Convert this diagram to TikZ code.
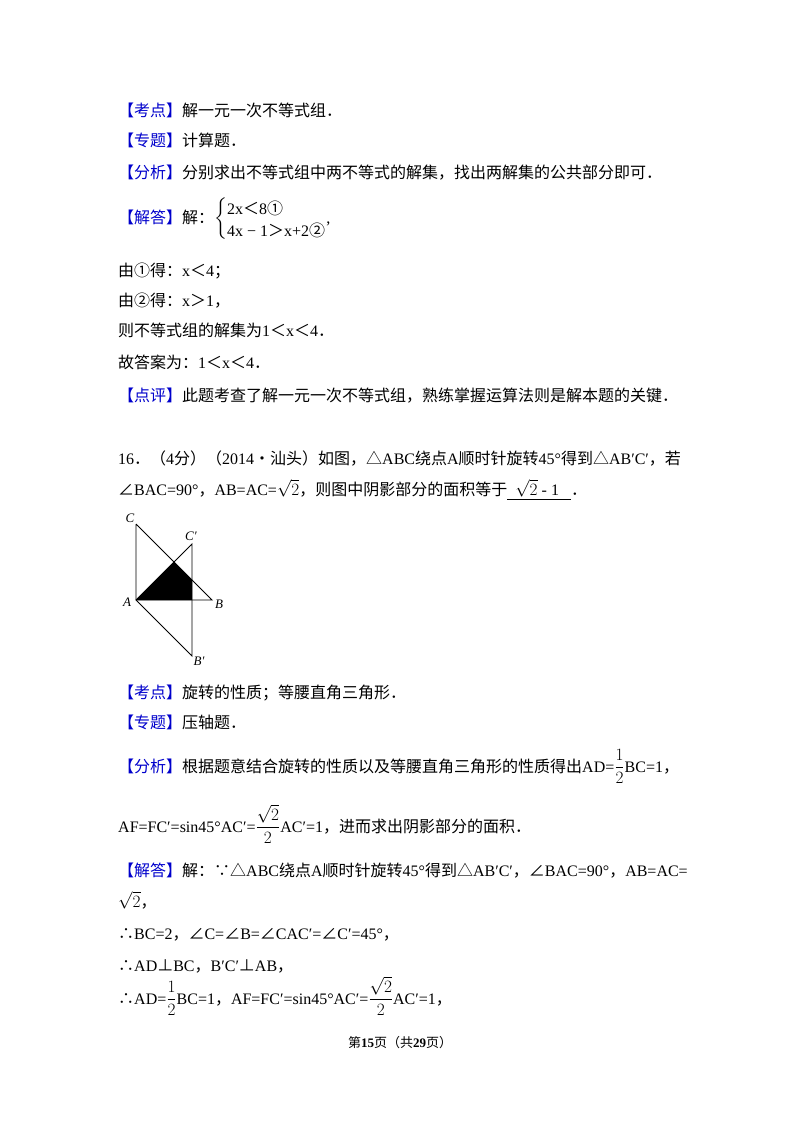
\documentclass[tikz,border=0pt]{standalone}
\usepackage{amsmath}
\usepackage{fontspec}
\setmainfont{Liberation Serif}
\newfontfamily\zh{Noto Sans CJK SC}
\newcommand{\bl}[1]{{\color{blue!80!black}\zh #1}}
\begin{document}
\begin{tikzpicture}[x=1pt,y=1pt,tx/.style={anchor=base west,inner sep=0pt,font=\fontsize{16}{18}\selectfont}]
\useasboundingbox (0,0) rectangle (800,-1132);
\fill[white] (0,0) rectangle (800,-1132);
\node[tx] (l1) at (118,-116) {\bl{【考点】}{\zh 解一元一次不等式组．}};
\node[tx] (l2) at (118,-146) {\bl{【专题】}{\zh 计算题．}};
\node[tx] (l3) at (118,-178) {\bl{【分析】}{\zh 分别求出不等式组中两不等式的解集，找出两解集的公共部分即可．}};
\node[tx,anchor=west] (l4) at (118,-219) {\bl{【解答】}{\zh 解：}$\left\{\begin{tabular}{@{}l@{}}\rule{0pt}{18pt}2x{\zh ＜}8{\zh ①}\\[3pt]4x − 1{\zh ＞}x+2{\zh ②}\end{tabular}\right.$,};
\node[tx] (l5) at (118,-276) {{\zh 由①得：}x{\zh ＜}4{\zh ；}};
\node[tx] (l6) at (118,-306) {{\zh 由②得：}x{\zh ＞}1{\zh ，}};
\node[tx] (l7) at (118,-336) {{\zh 则不等式组的解集为}1{\zh ＜}x{\zh ＜}4{\zh ．}};
\node[tx] (l8) at (118,-368) {{\zh 故答案为：}1{\zh ＜}x{\zh ＜}4{\zh ．}};
\node[tx] (l9) at (118,-401) {\bl{【点评】}{\zh 此题考查了解一元一次不等式组，熟练掌握运算法则是解本题的关键．}};
\node[tx] (q1) at (118,-464) {16{\zh ．（}4{\zh 分）（}2014{\zh •汕头）如图，△}ABC{\zh 绕点}A{\zh 顺时针旋转}45°{\zh 得到△}AB′C′{\zh ，若}};
\node[tx] (q2) at (118,-495) {{\zh ∠}BAC=90°{\zh ，}AB=AC=$\sqrt{2}${\zh ，则图中阴影部分的面积等于}\underline{\ \ $\sqrt{2}$ - 1\ \ \ }{\zh ．}};
% figure
\coordinate (A) at (136,-600);
\coordinate (B) at (212,-600);
\coordinate (C) at (136,-524);
\coordinate (Cp) at (192,-544);
\coordinate (Bp) at (192,-656);
\coordinate (P) at (174,-562);
\coordinate (Q) at (192,-580);
\coordinate (R) at (192,-600);
\fill[black] (A) -- (P) -- (Q) -- (R) -- cycle;
\draw[line width=0.9pt] (C) -- (A) -- (B) -- (C);
\draw[line width=0.9pt] (A) -- (Cp) -- (Bp) -- (A);
\node[font=\itshape\fontsize{13}{14}\selectfont] (nC) at (130,-518) {C};
\node[font=\itshape\fontsize{13}{14}\selectfont] (nCp) at (191,-536) {C′};
\node[font=\itshape\fontsize{13}{14}\selectfont] (nA) at (127,-602) {A};
\node[font=\itshape\fontsize{13}{14}\selectfont] (nB) at (219,-604) {B};
\node[font=\itshape\fontsize{13}{14}\selectfont] (nBp) at (199,-661) {B′};
\node[tx] (m1) at (118,-698) {\bl{【考点】}{\zh 旋转的性质；等腰直角三角形．}};
\node[tx] (m2) at (118,-728) {\bl{【专题】}{\zh 压轴题．}};
\node[tx] (m3) at (118,-772) {\bl{【分析】}{\zh 根据题意结合旋转的性质以及等腰直角三角形的性质得出}AD=$\dfrac{1}{2}$BC=1{\zh ，}};
\node[tx] (m4) at (118,-832) {AF=FC′=sin45°AC′=$\dfrac{\sqrt{2}}{2}$AC′=1{\zh ，进而求出阴影部分的面积．}};
\node[tx] (m5) at (118,-876) {\bl{【解答】}{\zh 解：∵△}ABC{\zh 绕点}A{\zh 顺时针旋转}45°{\zh 得到△}AB′C′{\zh ，∠}BAC=90°{\zh ，}AB=AC=};
\node[tx] (m6) at (118,-907) {$\sqrt{2}${\zh ，}};
\node[tx] (m7) at (118,-939) {{\zh ∴}BC=2{\zh ，∠}C={\zh ∠}B={\zh ∠}CAC′={\zh ∠}C′=45°{\zh ，}};
\node[tx] (m8) at (118,-971) {{\zh ∴}AD{\zh ⊥}BC{\zh ，}B′C′{\zh ⊥}AB{\zh ，}};
\node[tx] (m9) at (118,-1004) {{\zh ∴}AD=$\dfrac{1}{2}$BC=1{\zh ，}AF=FC′=sin45°AC′=$\dfrac{\sqrt{2}}{2}$AC′=1{\zh ，}};
\node[anchor=base,inner sep=0pt,font=\fontsize{13}{14}\selectfont] (ft) at (400,-1047) {{\zh 第}\textbf{15}{\zh 页（共}\textbf{29}{\zh 页）}};
\end{tikzpicture}
\end{document}
